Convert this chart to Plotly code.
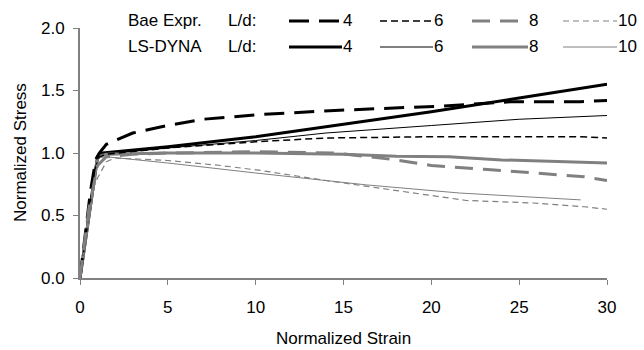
import plotly.graph_objects as go

# ---- data ----
bae4_x = [0, 0.3, 0.6, 0.9, 1.1, 1.5, 3, 5, 7, 10.5, 14.5, 20.5, 24.5, 28.5, 30]
bae4_y = [0, 0.35, 0.7, 0.95, 1.0, 1.07, 1.16, 1.22, 1.27, 1.31, 1.34, 1.375, 1.41, 1.41, 1.42]
bae6_x = [0, 0.4, 0.8, 1.1, 1.5, 5, 10, 14, 20, 25, 28.5, 30]
bae6_y = [0, 0.4, 0.85, 0.97, 0.99, 1.04, 1.09, 1.12, 1.13, 1.13, 1.13, 1.12]
bae8_x = [0, 0.5, 1, 1.5, 3, 5, 10, 14.5, 18, 20, 23, 26, 28.7, 30]
bae8_y = [0, 0.55, 0.9, 0.97, 0.99, 1.0, 1.01, 1.0, 0.945, 0.90, 0.87, 0.84, 0.81, 0.78]
bae10_x = [0, 0.3, 0.7, 1.0, 1.5, 2, 5, 8, 10.3, 14, 18, 22, 25.8, 28.7, 30]
bae10_y = [0, 0.3, 0.7, 0.8, 0.93, 0.96, 0.94, 0.90, 0.86, 0.78, 0.70, 0.62, 0.60, 0.57, 0.55]

ls4_x = [0, 1.0, 1.3, 5, 10, 14, 20, 25, 30]
ls4_y = [0, 0.97, 1.0, 1.05, 1.13, 1.21, 1.33, 1.44, 1.55]
ls6_x = [0, 1.0, 1.3, 5, 10, 14, 20, 25, 30]
ls6_y = [0, 0.97, 0.99, 1.04, 1.10, 1.16, 1.22, 1.27, 1.30]
ls8_x = [0, 1.0, 1.5, 5, 10, 15, 18, 21, 24, 28.5, 30]
ls8_y = [0, 0.97, 0.99, 1.0, 1.0, 0.99, 0.975, 0.97, 0.945, 0.925, 0.92]
ls10_x = [0, 1.0, 1.5, 5, 10, 12.5, 16.3, 21.6, 24, 28.5]
ls10_y = [0, 0.96, 0.97, 0.92, 0.84, 0.80, 0.745, 0.68, 0.66, 0.625]

ld_labels = ["4", "6", "8", "10"]
row_labels = ["Bae Expr.", "LS-DYNA"]

BLACK = "#000000"
GRAY = "#808080"

styles_bae = [(BLACK, 3, "20px,10px"), (BLACK, 1.5, "7px,4px"),
              (GRAY, 3, "18px,10px"), (GRAY, 1.2, "6px,4px")]
styles_ls = [(BLACK, 3, "solid"), (BLACK, 1, "solid"), (GRAY, 3, "solid"), (GRAY, 1, "solid")]

bae = [(bae4_x, bae4_y), (bae6_x, bae6_y), (bae8_x, bae8_y), (bae10_x, bae10_y)]
ls = [(ls4_x, ls4_y), (ls6_x, ls6_y), (ls8_x, ls8_y), (ls10_x, ls10_y)]

fig = go.Figure()
for (xs, ys), (c, w, d), lab in zip(ls, styles_ls, ld_labels):
    fig.add_trace(go.Scatter(x=xs, y=ys, mode="lines", name="LS-DYNA " + lab,
                             line=dict(color=c, width=w, dash=d), showlegend=False))
for (xs, ys), (c, w, d), lab in zip(bae, styles_bae, ld_labels):
    fig.add_trace(go.Scatter(x=xs, y=ys, mode="lines", name="Bae " + lab,
                             line=dict(color=c, width=w, dash=d), showlegend=False))

W, H = 644, 350
L, R, T, B = 80, 37, 28, 72
FONT = "Liberation Sans, Arial, sans-serif"
FS = 17

def px2paper_x(px):
    return (px - L) / (W - L - R)

def px2paper_y(py):
    return (H - B - py) / (H - T - B)

# manual legend
rows_y = [21, 47]
sample_x = [(289, 342), (380, 433), (472, 528), (563, 617)]
for r, (rl, sty) in enumerate(zip(row_labels, [styles_bae, styles_ls])):
    yp = px2paper_y(rows_y[r])
    fig.add_annotation(x=px2paper_x(126), y=yp, xref="paper", yref="paper", text=rl,
                       showarrow=False, xanchor="left", yanchor="middle",
                       font=dict(size=FS, color="black", family=FONT))
    fig.add_annotation(x=px2paper_x(226), y=yp, xref="paper", yref="paper", text="L/d:",
                       showarrow=False, xanchor="left", yanchor="middle",
                       font=dict(size=FS, color="black", family=FONT))
    for (x0, x1), (c, w, d), lab in zip(sample_x, sty, ld_labels):
        fig.add_shape(type="line", xref="paper", yref="paper",
                      x0=px2paper_x(x0), x1=px2paper_x(x1), y0=yp, y1=yp,
                      line=dict(color=c, width=w, dash=d))
        fig.add_annotation(x=px2paper_x(x1), y=yp, xref="paper", yref="paper", text=lab,
                           showarrow=False, xanchor="left", yanchor="middle", xshift=-1,
                           font=dict(size=FS, color="black", family=FONT))

# axis titles as annotations (fixed placement)
fig.add_annotation(x=0.5, y=px2paper_y(338), xref="paper", yref="paper", text="Normalized Strain",
                   showarrow=False, xanchor="center", yanchor="middle",
                   font=dict(size=FS, color="black", family=FONT))
fig.add_annotation(x=px2paper_x(20), y=px2paper_y(153), xref="paper", yref="paper",
                   text="Normalized Stress", textangle=-90,
                   showarrow=False, xanchor="center", yanchor="middle",
                   font=dict(size=FS, color="black", family=FONT))

axis_common = dict(showgrid=False, zeroline=False, showline=True, linecolor=GRAY, linewidth=2,
                   ticks="outside", tickcolor=GRAY, ticklen=5, tickwidth=1, automargin=False,
                   tickfont=dict(size=FS, color="black", family=FONT))

fig.update_layout(
    width=W, height=H,
    margin=dict(l=L, r=R, t=T, b=B),
    plot_bgcolor="white", paper_bgcolor="white",
    font=dict(family=FONT, size=FS, color="black"),
    xaxis=dict(range=[0, 30], tickvals=[0, 5, 10, 15, 20, 25, 30], ticklabelstandoff=8,
               **axis_common),
    yaxis=dict(range=[0, 2], tickvals=[0, 0.5, 1.0, 1.5, 2.0], tickformat=".1f",
               ticklabelstandoff=5, **axis_common),
)

fig.write_html("out.html")
